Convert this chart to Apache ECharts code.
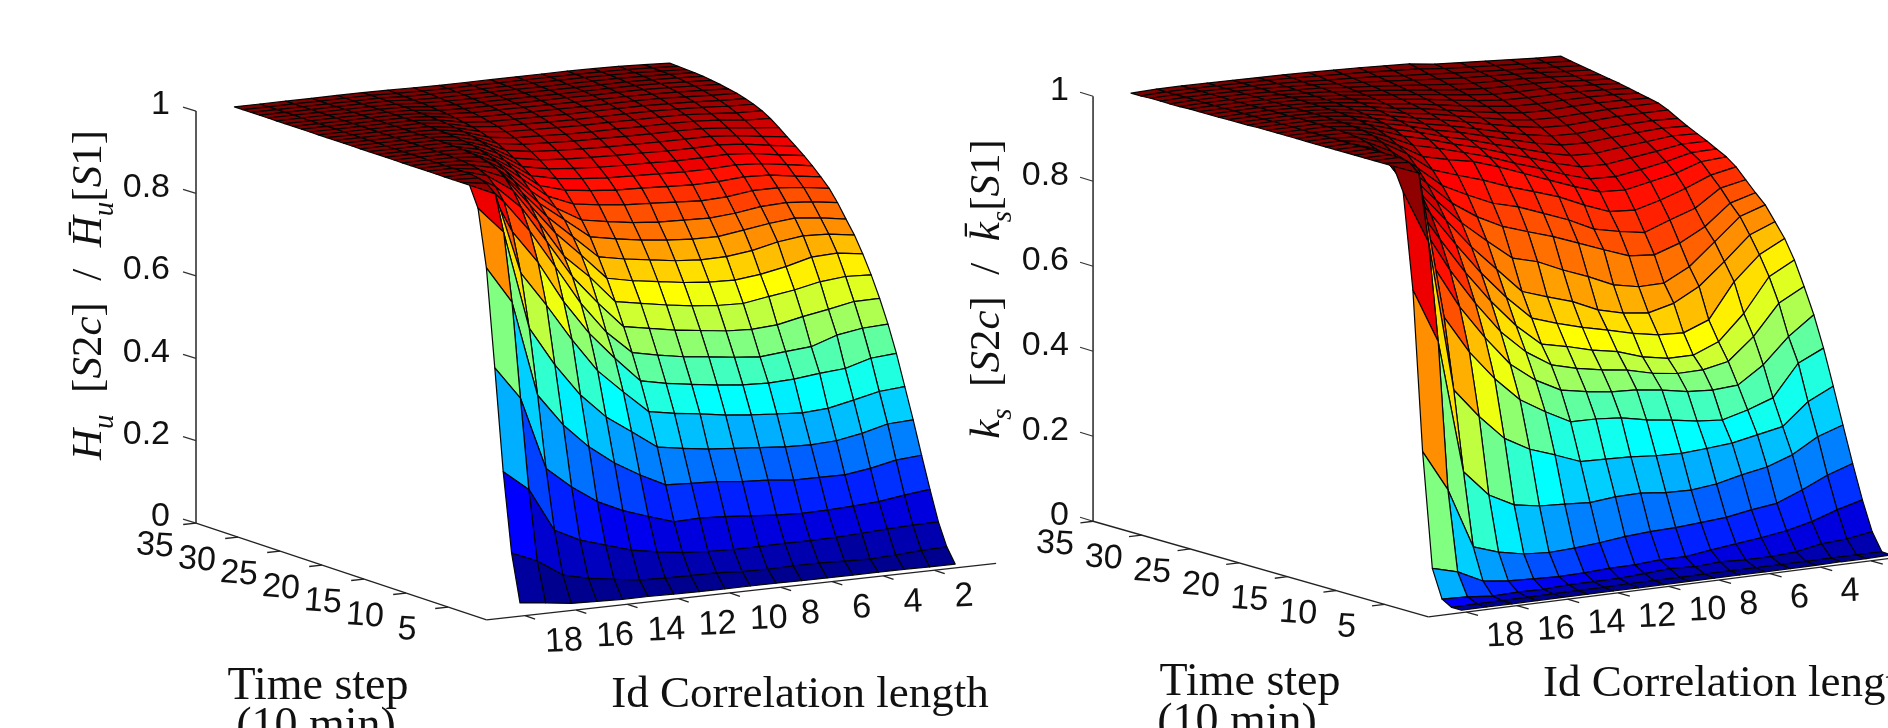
<!DOCTYPE html>
<html>
<head>
<meta charset="utf-8">
<title>Hu and ks surfaces</title>
<style>
html, body { margin: 0; padding: 0; background: #fff; overflow: hidden; }
#main { width: 1888px; height: 728px; }
</style>
<script src="https://cdn.jsdelivr.net/npm/echarts@6/dist/echarts.min.js"></script>
</head>
<body>
<div id="main"></div>
<script>
var timeSteps = [1,2,3,4,5,6,7,8,9,10,11,12,13,14,15,16,17,18,19,20,21,22,23,24,25,26,27,28,29,30,31,32,33,34,35];
var corrLengths = [18,17,16,15,14,13,12,11,10,9,8,7,6,5,4,3,2,1];
var timeTicks = [35,30,25,20,15,10,5];
var corrTicks = [18,16,14,12,10,8,6,4,2];
var zTicks = [0,0.2,0.4,0.6,0.8,1];

// one row per time step, columns follow corrLengths
var huRows = [
[.027,.020,.012,.010,.008,.008,.007,.006,.006,.006,.006,.005,.005,.005,.005,.005,.004,.004],
[.141,.115,.074,.059,.050,.041,.039,.038,.038,.034,.033,.034,.034,.032,.030,.033,.037,.039],
[.332,.282,.176,.145,.126,.107,.096,.087,.083,.081,.081,.082,.082,.083,.086,.089,.092,.093],
[.577,.497,.319,.267,.225,.196,.175,.155,.157,.154,.149,.144,.141,.142,.145,.149,.158,.165],
[.813,.723,.490,.411,.351,.305,.269,.238,.235,.232,.225,.222,.215,.215,.214,.223,.236,.241],
[.951,.886,.646,.550,.470,.410,.367,.323,.313,.304,.299,.294,.289,.287,.290,.301,.317,.320],
[1,.972,.773,.688,.597,.515,.457,.402,.391,.383,.373,.367,.362,.358,.362,.375,.389,.394],
[1,.990,.866,.785,.683,.599,.532,.470,.457,.448,.439,.433,.430,.433,.440,.445,.463,.468],
[1,.997,.932,.855,.761,.665,.588,.532,.519,.508,.501,.493,.487,.493,.498,.519,.529,.532],
[1,1,.962,.905,.815,.723,.652,.588,.577,.566,.558,.550,.547,.551,.564,.575,.587,.588],
[1,1,.982,.940,.857,.766,.709,.642,.631,.620,.611,.605,.603,.613,.622,.635,.641,.638],
[1,1,.991,.965,.890,.815,.755,.692,.679,.670,.661,.655,.653,.660,.672,.688,.691,.682],
[1,1,.995,.980,.915,.848,.793,.737,.725,.716,.707,.702,.703,.711,.725,.733,.730,.721],
[1,1,.998,.988,.937,.875,.827,.779,.767,.757,.750,.746,.745,.754,.763,.769,.763,.753],
[1,1,.999,.993,.955,.898,.849,.813,.802,.793,.787,.785,.783,.788,.797,.800,.795,.786],
[1,1,1,.996,.968,.920,.871,.845,.836,.829,.826,.822,.818,.821,.829,.829,.823,.814],
[1,1,1,.998,.977,.937,.890,.872,.864,.858,.856,.853,.850,.851,.856,.853,.844,.835],
[1,1,1,.999,.984,.950,.907,.893,.886,.881,.879,.877,.875,.875,.878,.874,.865,.855],
[1,1,1,1,.989,.962,.922,.910,.904,.900,.898,.897,.895,.895,.897,.892,.882,.873],
[1,1,1,1,.992,.971,.936,.925,.920,.917,.915,.914,.912,.912,.913,.908,.898,.889],
[1,1,1,1,.995,.978,.948,.938,.934,.931,.929,.928,.927,.927,.927,.922,.913,.905],
[1,1,1,1,.997,.983,.958,.949,.946,.943,.942,.941,.940,.940,.939,.934,.927,.921],
[1,1,1,1,.998,.987,.966,.958,.956,.953,.952,.952,.951,.951,.950,.946,.939,.936],
[1,1,1,1,.999,.990,.973,.966,.964,.962,.961,.961,.960,.960,.959,.955,.950,.948],
[1,1,1,1,1,.993,.978,.972,.971,.969,.968,.968,.968,.968,.966,.963,.959,.957],
[1,1,1,1,1,.995,.982,.977,.976,.975,.974,.974,.974,.974,.972,.970,.966,.964],
[1,1,1,1,1,.996,.986,.982,.981,.980,.980,.979,.979,.979,.978,.975,.972,.970],
[1,1,1,1,1,.997,.989,.985,.985,.984,.984,.983,.983,.983,.982,.980,.977,.974],
[1,1,1,1,1,.998,.991,.988,.988,.987,.987,.987,.986,.986,.986,.984,.981,.978],
[1,1,1,1,1,.999,.993,.991,.990,.990,.990,.989,.989,.989,.989,.987,.984,.981],
[1,1,1,1,1,.999,.995,.993,.992,.992,.992,.992,.991,.991,.991,.989,.987,.984],
[1,1,1,1,1,1,.996,.994,.994,.994,.994,.993,.993,.993,.993,.991,.989,.986],
[1,1,1,1,1,1,.997,.996,.995,.995,.995,.995,.995,.995,.994,.993,.990,.987],
[1,1,1,1,1,1,.998,.997,.996,.996,.996,.996,.996,.996,.995,.994,.991,.988],
[1,1,1,1,1,1,.999,.998,.997,.997,.997,.997,.997,.997,.996,.995,.992,.989]
];

var ksRows = [
[.001,.001,.001,.001,.001,.001,.001,.001,.001,.001,.001,.001,.001,.001,.001,.002,.002,.003],
[.001,.002,.002,.002,.003,.003,.003,.004,.004,.004,.004,.004,.004,.004,.004,.004,.004,.004],
[.014,.012,.006,.008,.007,.010,.010,.010,.014,.018,.015,.019,.016,.016,.020,.031,.035,.045],
[.080,.064,.035,.028,.025,.023,.024,.027,.028,.032,.032,.040,.047,.054,.063,.077,.097,.113],
[.348,.251,.109,.089,.077,.073,.076,.081,.088,.092,.094,.098,.103,.113,.121,.145,.172,.192],
[.722,.593,.279,.217,.186,.176,.173,.169,.175,.176,.170,.168,.175,.189,.200,.221,.256,.276],
[.946,.821,.465,.395,.336,.303,.282,.259,.257,.255,.250,.248,.252,.257,.269,.281,.332,.361],
[1,.976,.630,.540,.470,.413,.377,.346,.345,.340,.328,.320,.310,.305,.321,.342,.416,.444],
[1,.995,.740,.640,.560,.490,.445,.414,.403,.395,.392,.384,.373,.369,.373,.413,.472,.516],
[1,1,.820,.720,.635,.560,.505,.467,.451,.440,.432,.417,.409,.410,.422,.473,.544,.576],
[1,1,.875,.785,.700,.625,.560,.509,.496,.480,.469,.449,.438,.438,.462,.521,.600,.632],
[1,1,.915,.840,.760,.685,.620,.564,.544,.527,.513,.498,.487,.484,.507,.589,.645,.676],
[1,1,.945,.880,.810,.740,.680,.620,.600,.581,.554,.539,.532,.547,.579,.630,.685,.709],
[1,1,.965,.915,.850,.790,.740,.692,.676,.649,.626,.599,.587,.588,.619,.670,.722,.742],
[1,1,.980,.940,.885,.830,.790,.760,.740,.721,.698,.675,.653,.648,.668,.699,.747,.764],
[1,1,.990,.960,.915,.865,.835,.808,.792,.769,.746,.717,.704,.694,.716,.736,.776,.788],
[1,1,.995,.975,.940,.895,.875,.856,.833,.814,.794,.767,.744,.740,.756,.776,.800,.812],
[1,1,.998,.985,.955,.920,.905,.893,.873,.850,.827,.804,.784,.781,.793,.805,.825,.829],
[1,1,.999,.990,.968,.940,.925,.908,.890,.868,.848,.826,.808,.806,.815,.826,.840,.841],
[1,1,1,.993,.977,.955,.940,.921,.905,.885,.866,.846,.830,.828,.836,.844,.853,.853],
[1,1,1,.995,.983,.965,.950,.932,.917,.899,.882,.864,.850,.848,.855,.860,.866,.864],
[1,1,1,.996,.987,.972,.958,.941,.928,.912,.896,.880,.868,.866,.871,.875,.878,.875],
[.999,1,1,.997,.990,.977,.964,.949,.937,.923,.908,.894,.883,.881,.885,.888,.889,.887],
[.999,.999,.999,.997,.992,.981,.969,.956,.945,.932,.919,.906,.896,.894,.897,.900,.900,.900],
[.999,.999,.999,.997,.993,.984,.974,.961,.952,.940,.928,.916,.908,.906,.908,.910,.910,.910],
[.998,.999,.999,.997,.994,.986,.977,.966,.958,.947,.936,.926,.918,.916,.918,.919,.918,.915],
[.998,.999,.999,.997,.994,.988,.980,.970,.963,.953,.943,.934,.927,.925,.926,.926,.924,.920],
[.998,.998,.998,.997,.995,.989,.983,.974,.967,.959,.950,.941,.935,.933,.933,.932,.929,.925],
[.998,.998,.998,.997,.995,.990,.985,.977,.971,.964,.956,.948,.942,.940,.940,.938,.934,.930],
[.997,.998,.998,.997,.995,.991,.987,.980,.975,.968,.961,.954,.949,.947,.946,.943,.938,.934],
[.997,.998,.998,.997,.995,.992,.989,.983,.978,.972,.966,.960,.955,.953,.951,.947,.942,.938],
[.997,.998,.998,.997,.996,.993,.990,.985,.981,.976,.971,.966,.961,.958,.955,.951,.946,.942],
[.997,.998,.998,.997,.996,.994,.991,.987,.984,.980,.975,.971,.966,.962,.958,.954,.950,.946],
[.996,.998,.998,.997,.996,.995,.993,.990,.987,.984,.980,.977,.970,.966,.962,.958,.954,.950],
[.996,.998,.998,.997,.996,.995,.994,.992,.990,.988,.985,.982,.974,.970,.966,.962,.958,.955]
];

// view of each plot: pixel steps per unit of time, correlation length and z
var leftView = {x0: 989.2, tx: -8.4, cx: -25.6, y0: 565.7, ty: -2.8, cy: 2.84, zs: 412,
    tMin: 0.4, tMax: 35, cMin: -0.4, cMax: 19.5};
var rightView = {x0: 1926.6, tx: -9.72, cx: -25.3, y0: 555.8, ty: -2.77, cy: 3.2, zs: 425,
    tMin: 0.5, tMax: 35, cMin: -0.6, cMax: 19.5};

function project(v, t, c, z) {
    return [v.x0 + v.tx * t + v.cx * c, v.y0 + v.ty * t + v.cy * c - v.zs * z];
}

// matlab jet with 64 levels
function jet(z) {
    var x = Math.min(64, Math.max(1, Math.floor(z * 64) + 1));
    var r = x <= 24 ? 0 : x <= 40 ? (x - 24) / 16 : x <= 56 ? 1 : 1 - (x - 56) / 16;
    var g = x <= 8 ? 0 : x <= 24 ? (x - 8) / 16 : x <= 40 ? 1 : x <= 56 ? (56 - x) / 16 : 0;
    var b = x <= 8 ? 0.5 + x / 16 : x <= 24 ? 1 : x <= 40 ? (40 - x) / 16 : 0;
    return 'rgb(' + Math.round(r * 255) + ',' + Math.round(g * 255) + ',' + Math.round(b * 255) + ')';
}

function surfaceSeries(name, view, heights, colours) {
    var cells = [];
    // far corner first so the near cells paint over it
    for (var i = timeSteps.length - 2; i >= 0; i--) {
        for (var j = corrLengths.length - 2; j >= 0; j--) {
            cells.push([i, j]);
        }
    }
    return {
        name: name,
        type: 'custom',
        coordinateSystem: 'cartesian2d',
        silent: true,
        clip: false,
        progressive: 0,
        animation: false,
        data: cells,
        renderItem: function (params, api) {
            var i = api.value(0), j = api.value(1);
            var corners = [[i, j], [i, j + 1], [i + 1, j + 1], [i + 1, j]];
            var points = corners.map(function (n) {
                return api.coord(project(view, timeSteps[n[0]], corrLengths[n[1]], heights[n[0]][n[1]]));
            });
            return {
                type: 'polygon',
                shape: {points: points},
                style: {fill: jet(colours[i][j + 1]), stroke: '#050505', lineWidth: 1.2, lineJoin: 'round'}
            };
        }
    };
}

function segment(api, a, b, colour, width) {
    var p = api.coord(a), q = api.coord(b);
    return {
        type: 'line',
        shape: {x1: p[0], y1: p[1], x2: q[0], y2: q[1]},
        style: {stroke: colour, lineWidth: width}
    };
}

function tickLabel(api, at, text, align, rot) {
    var p = api.coord(at);
    return {
        type: 'text',
        x: p[0],
        y: p[1],
        rotation: rot,
        style: {text: text, fontFamily: 'Liberation Sans', fontSize: 34, fill: '#111', align: align, verticalAlign: 'middle'}
    };
}

function axesSeries(name, view, corrShown, off) {
    return {
        name: name,
        type: 'custom',
        coordinateSystem: 'cartesian2d',
        silent: true,
        clip: false,
        animation: false,
        data: [[0]],
        renderItem: function (params, api) {
            var kids = [];
            var corner = project(view, view.tMin, view.cMax, 0);
            var back = project(view, view.tMax, view.cMax, 0);
            kids.push(segment(api, back, project(view, view.tMax, view.cMax, 1), '#333', 1.6));
            kids.push(segment(api, back, corner, '#222', 1.3));
            kids.push(segment(api, corner, project(view, view.tMin, view.cMin, 0), '#222', 1.3));
            zTicks.forEach(function (z) {
                var p = project(view, view.tMax, view.cMax, z);
                kids.push(segment(api, p, [p[0] - 13, p[1] - 4], '#333', 1.3));
                kids.push(tickLabel(api, [off.zRight, p[1] - 6], String(z), 'right', 0));
            });
            timeTicks.forEach(function (t) {
                var p = project(view, t, view.cMax, 0);
                kids.push(segment(api, p, project(view, t, view.cMax + 0.5, 0), '#222', 1.3));
                kids.push(tickLabel(api, [p[0] + off.tx, p[1] + off.ty], String(t), 'center', -0.07));
            });
            corrTicks.forEach(function (c) {
                var p = project(view, view.tMin, c, 0);
                kids.push(segment(api, p, project(view, view.tMin - 1.2, c, 0), '#222', 1.3));
                if (corrShown.indexOf(c) >= 0) {
                    kids.push(tickLabel(api, [p[0] + off.cx, p[1] + off.cy], String(c), 'left', 0.05));
                }
            });
            return {type: 'group', children: kids};
        }
    };
}

var serif = 'Liberation Serif';
var richStyles = {
    m: {fontFamily: serif, fontStyle: 'italic', fontSize: 43, verticalAlign: 'bottom', padding: [0, 0, 8, 0], fill: '#111'},
    r: {fontFamily: serif, fontSize: 43, verticalAlign: 'bottom', padding: [0, 0, 8, 0], fill: '#111'},
    s: {fontFamily: serif, fontStyle: 'italic', fontSize: 29, verticalAlign: 'bottom', fill: '#111'}
};

function yTitle(x, y, sym, sub) {
    var text = '{m|' + sym + '}{s|' + sub + '}{r|  [}{m|S}{r|2}{m|c}{r|]  /  }{m|' + sym + '\u0304}{s|' + sub + '}{r|[}{m|S}{r|1]}';
    return {
        type: 'text', x: x, y: y, rotation: Math.PI / 2, silent: true,
        style: {text: text, rich: richStyles, align: 'center', verticalAlign: 'middle'}
    };
}

function plainTitle(x, y, text, align, size) {
    return {
        type: 'text', x: x, y: y, silent: true,
        style: {text: text, fontFamily: serif, fontSize: size, fill: '#111', align: align, verticalAlign: 'middle'}
    };
}

var myChart = echarts.init(document.getElementById('main'));

var option = {
    animation: false,
    backgroundColor: '#fff',
    grid: {left: 0, right: 0, top: 0, bottom: 0},
    xAxis: {type: 'value', min: 0, max: 1888, show: false},
    yAxis: {type: 'value', min: 0, max: 728, inverse: true, show: false},
    graphic: {
        elements: [
            yTitle(94, 295, 'H', 'u'),
            yTitle(992, 289, 'k', 's'),
            plainTitle(318, 687, 'Time step', 'center', 46),
            plainTitle(316, 727, '(10 min)', 'center', 46),
            plainTitle(800, 695, 'Id Correlation length', 'center', 45),
            plainTitle(1250, 683, 'Time step', 'center', 46),
            plainTitle(1237, 723, '(10 min)', 'center', 46),
            plainTitle(1543, 684, 'Id Correlation length', 'left', 45)
        ]
    },
    series: [
        axesSeries('axes left', leftView, corrTicks, {zRight: 170, tx: -41, ty: 23, cx: 20, cy: 27}),
        axesSeries('axes right', rightView, [18,16,14,12,10,8,6,4], {zRight: 1069, tx: -38, ty: 23, cx: 20, cy: 25}),
        surfaceSeries('Hu', leftView, huRows, huRows),
        // right plot: height is ks, facet colours read the same as the left plot
        surfaceSeries('ks', rightView, ksRows, huRows)
    ]
};

myChart.setOption(option, true);

window.addEventListener('resize', function () {
    myChart.resize();
});
</script>
</body>
</html>
